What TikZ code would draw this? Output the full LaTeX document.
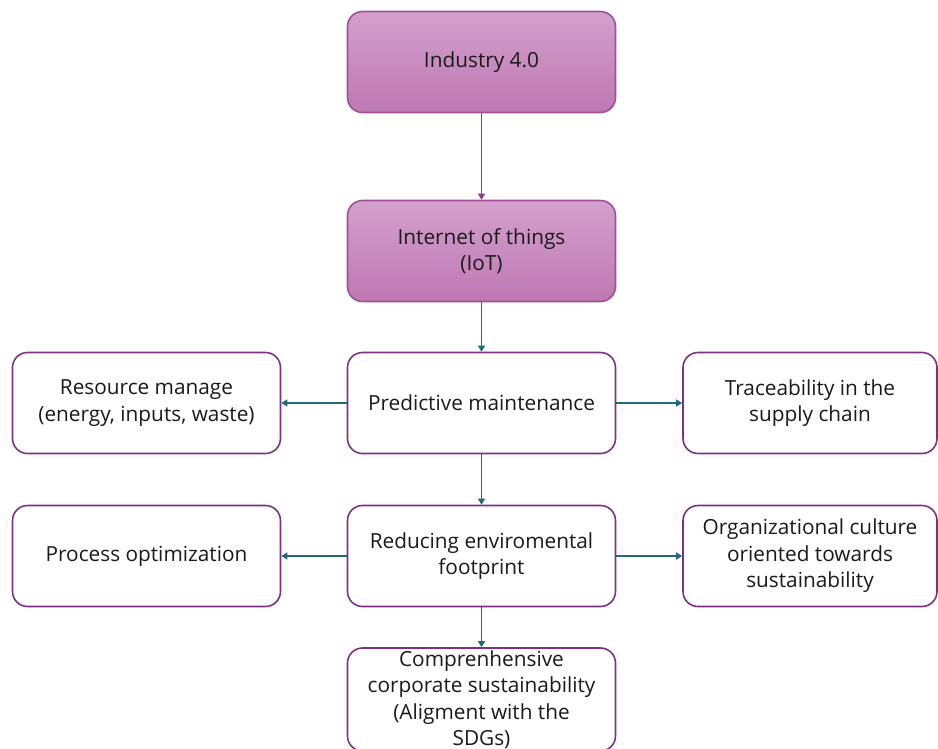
\documentclass[tikz,border=0pt]{standalone}
\usepackage{fontspec}
\setmainfont{Open Sans}
\usetikzlibrary{arrows.meta}
\definecolor{boxline}{HTML}{7E2F86}
\definecolor{topline}{HTML}{A24E9A}
\definecolor{topA}{HTML}{D3A0CC}
\definecolor{topB}{HTML}{BE78B2}
\definecolor{teal}{HTML}{1F6A80}
\definecolor{purpar}{HTML}{8E3A8A}
\definecolor{txt}{HTML}{1A1A1A}
\tikzset{
  box/.style={draw=boxline, line width=1.6pt, rounded corners=15pt, fill=white,
    minimum width=268pt, minimum height=101pt, align=center, text=txt,
    font=\fontsize{20.8}{26.5}\selectfont, inner sep=1pt},
  topbox/.style={box, draw=topline, top color=topA, bottom color=topB},
  conn/.style={draw=teal, fill=teal, line width=1.4pt, -{Triangle[width=7pt,length=6pt]}},
  pconn/.style={conn, draw=purpar, fill=purpar},
}
\begin{document}
\begin{tikzpicture}[x=1pt,y=-1pt]
\useasboundingbox (0,0) rectangle (938,748);
\node[topbox] (ind) at (481.5,62) {Industry 4.0};
\node[topbox] (iot) at (481.5,251) {Internet of things\\(IoT)};
\node[box] (pm) at (481.5,403) {Predictive maintenance};
\node[box] (rm) at (146.5,403) {Resource manage\\(energy, inputs, waste)};
\node[box, minimum width=254pt] (tr) at (810,403) {Traceability in the\\supply chain};
\node[box] (red) at (481.5,556) {Reducing enviromental\\footprint};
\node[box] (po) at (146.5,556) {Process optimization};
\node[box, minimum width=254pt] (oc) at (810,556) {Organizational culture\\oriented towards\\sustainability};
\node[box, minimum height=103pt] (cs) at (481.5,699.5) {Comprenhensive\\corporate sustainability\\(Aligment with the\\SDGs)};
\draw[pconn] (ind) -- (iot);
\draw[conn] (iot) -- (pm);
\draw[conn] (pm) -- (rm);
\draw[conn] (pm) -- (tr);
\draw[conn] (pm) -- (red);
\draw[conn] (red) -- (po);
\draw[conn] (red) -- (oc);
\draw[conn] (red) -- (cs);
\end{tikzpicture}
\end{document}
